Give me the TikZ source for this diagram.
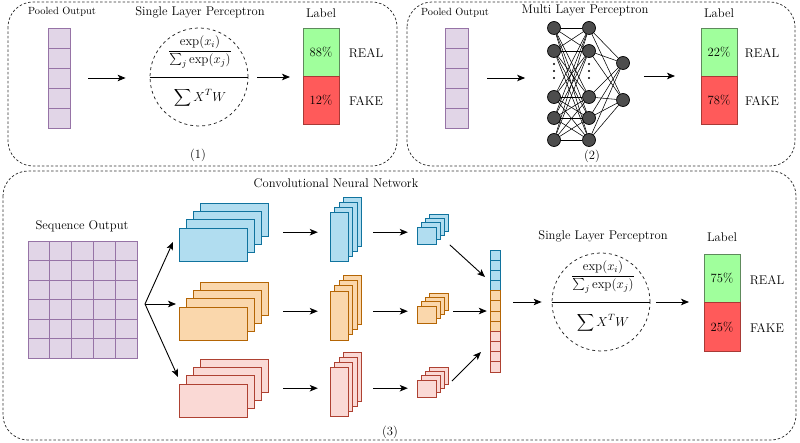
\RequirePackage{fix-cm}
\documentclass[tikz,border=0pt]{standalone}
\usepackage{amsmath}
\usetikzlibrary{arrows.meta,fit,calc}
\definecolor{pfill}{HTML}{E1D5E7}
\definecolor{pdraw}{HTML}{9673A6}
\definecolor{bfill}{HTML}{B1DDF0}
\definecolor{bdraw}{HTML}{10739E}
\definecolor{ofill}{HTML}{FAD7AC}
\definecolor{odraw}{HTML}{B46504}
\definecolor{rfill}{HTML}{FAD9D5}
\definecolor{rdraw}{HTML}{AE4132}
\definecolor{gbox}{HTML}{A0FF9C}
\definecolor{gboxd}{HTML}{5E8A5C}
\definecolor{rbox}{HTML}{FF5A5A}
\definecolor{rboxd}{HTML}{A83A36}
\definecolor{nnode}{HTML}{4D4D4D}
\tikzset{
  panel/.style={draw=black!80, line width=0.75pt, dash pattern=on 2.5pt off 2pt, rounded corners=25pt},
  arr/.style={draw=black, line width=0.9pt, -{Stealth[length=8pt,width=6.5pt,inset=2pt]}},
  cell/.style={draw=pdraw, fill=pfill, line width=0.9pt, inner sep=0pt, outer sep=0pt, anchor=north west},
  slp/.style={circle, draw=black!85, dashed, line width=0.75pt, minimum size=98pt, inner sep=0pt},
  realbox/.style={draw=gboxd, fill=gbox, line width=0.9pt, minimum width=36pt, minimum height=48pt, inner sep=0pt, outer sep=0pt},
  fakebox/.style={draw=rboxd, fill=rbox, line width=0.9pt, minimum width=36pt, minimum height=48pt, inner sep=0pt, outer sep=0pt},
  txt/.style={inner sep=0pt},
  mathtxt/.style={inner sep=0pt, font=\fontsize{13}{15.5}\selectfont},
  smalltxt/.style={font=\fontsize{10.4}{12}\selectfont, inner sep=0pt},
  neuron/.style={circle, draw=black, fill=nnode, line width=0.7pt, minimum size=13pt, inner sep=0pt},
  link/.style={draw=black, line width=0.55pt},
  fmap/.style 2 args={draw=#1, fill=#2, line width=0.9pt, inner sep=0pt, outer sep=0pt, anchor=north west},
  dotmark/.style={fill=black}
}
% #1 name, #2 x, #3 y, #4 w, #5 h, #6 dx, #7 dy, #8 colour prefix
\newcommand\fstack[8]{%
  \foreach \i in {3,2,1,0}{%
    \node[fmap={#8draw}{#8fill}, minimum width=#4pt, minimum height=#5pt] (#1-\i) at ({#2+\i*#6},{#3-\i*#7}) {};
  }%
  \node[fit=(#1-0)(#1-3), inner sep=0pt] (#1) {};
}
\begin{document}
\begin{tikzpicture}[x=1pt,y=-1pt,font=\fontsize{12.6}{15}\selectfont]
\useasboundingbox (0,0) rectangle (800,443);

% ---------------- panels
\draw[panel] (8,2) rectangle (397,166);
\draw[panel] (407,2) rectangle (795,166);
\draw[panel] (3,171) rectangle (796,440);

% ---------------- panel 1
\node[smalltxt] (po1) at (62,12) {Pooled Output};
\foreach \k in {0,...,4}{
  \node[cell, minimum width=22pt, minimum height=20pt] (p1c\k) at (48,{28+\k*20}) {};
}
\node[fit=(p1c0)(p1c4), inner sep=0pt] (col1) {};
\node[txt] (slt1) at (200,12) {Single Layer Perceptron};
\node[slp] (slp1) at (199,77) {};
\draw[line width=0.9pt] (slp1.west) -- (slp1.east);
\node[mathtxt] (fr1) at (200,52) {$\dfrac{\exp(x_i)}{\sum_j \exp(x_j)}$};
\node[mathtxt] (sm1) at (200,98) {$\displaystyle\sum X^T W$};
\draw[arr, shorten <=18pt, shorten >=24pt] (col1.east) -- (col1.east -| slp1.west);
\node[txt] (lb1) at (321,13) {Label};
\node[realbox, anchor=north west] (r1) at (303,28) {88\%};
\node[fakebox, anchor=north west] (f1) at (303,76) {12\%};
\node[txt] (rt1) at (366,53) {REAL};
\node[txt] (ft1) at (366,101) {FAKE};
\draw[arr, shorten <=9pt, shorten >=13pt] (slp1.east) -- (slp1.east -| r1.west);
\node[txt] (n1lab) at (198,155) {(1)};

% ---------------- panel 2
\node[smalltxt] (po2) at (455,13) {Pooled Output};
\foreach \k in {0,...,4}{
  \node[cell, minimum width=23pt, minimum height=20pt] (p2c\k) at (445,{28+\k*20}) {};
}
\node[fit=(p2c0)(p2c4), inner sep=0pt] (col2) {};
\node[txt] (mlt) at (585,10) {Multi Layer Perceptron};
\foreach \y [count=\j] in {28,51,97,118,140}{
  \node[neuron] (a\j) at (554,\y) {};
  \node[neuron] (b\j) at (589,\y) {};
}
\node[neuron] (c1) at (623,63) {};
\node[neuron] (c2) at (623,100) {};
\foreach \i in {1,...,5}{
  \foreach \j in {1,...,5}{
    \draw[link] (a\i) -- (b\j);
  }
  \draw[link] (b\i) -- (c1);
  \draw[link] (b\i) -- (c2);
}
\foreach \x in {554,589}{
  \foreach \y in {64,71,78}{
    \fill[dotmark] (\x,\y) circle (1.1pt);
  }
}
\draw[arr, shorten <=19pt, shorten >=22pt] (col2.east) -- (col2.east -| a3.west);
\node[txt] (lb2) at (719,13) {Label};
\node[realbox, anchor=north west] (r2) at (701,28) {22\%};
\node[fakebox, anchor=north west] (f2) at (701,76) {78\%};
\node[txt] (rt2) at (762,53) {REAL};
\node[txt] (ft2) at (762,101) {FAKE};
\draw[arr, shorten <=14pt, shorten >=26pt] (c1.east |- r2.south west) -- (r2.south west);
\node[txt] (n2lab) at (592,156) {(2)};

% ---------------- panel 3
\node[txt] (cnnt) at (336,183) {Convolutional Neural Network};
\node[txt] (sqo) at (82,226) {Sequence Output};
\foreach \c in {0,...,4}{
  \foreach \r in {0,...,5}{
    \node[cell, minimum width=21.8pt, minimum height=19.5pt] (g\c\r) at ({28+\c*21.8},{241+\r*19.5}) {};
  }
}
\node[fit=(g00)(g45), inner sep=0pt] (grid) {};

% feature maps
\fstack{bigB}{179}{228}{68}{33}{7.3}{8.2}{b}
\fstack{bigO}{179}{307}{68}{33}{7.3}{8.2}{o}
\fstack{bigR}{179}{384}{68}{33}{7.3}{8.2}{r}
\fstack{midB}{330}{212}{18}{49}{4.6}{5}{b}
\fstack{midO}{330}{291}{18}{49}{4.6}{5.3}{o}
\fstack{midR}{330}{367}{18}{49}{4.6}{5}{r}
\fstack{smB}{417}{227}{19}{17}{4.3}{4.3}{b}
\fstack{smO}{417}{306}{19}{17}{4.3}{4.3}{o}
\fstack{smR}{417}{380}{19}{17}{4.3}{4.3}{r}

% concatenated vector
\foreach \k/\c in {1/b,2/b,3/b,4/b,5/o,6/o,7/o,8/o,9/r,10/r,11/r,12/r}{
  \node[fmap={\c draw}{\c fill}, minimum width=10pt, minimum height=10.17pt] (v\k) at (490,{250+(\k-1)*10.17}) {};
}
\node[fit=(v1)(v12), inner sep=0pt] (vec) {};

% split arrows
\coordinate (split) at (145,304);
\coordinate (tB) at (173,242);
\coordinate (tO) at (176,304);
\coordinate (tR) at (178,377);
\draw[arr] (split) -- (tB);
\draw[arr] (split) -- (tO);
\draw[arr] (split) -- (tR);

% stage arrows
\draw[arr, shorten <=14pt, shorten >=12pt] (bigB.east) -- (bigB.east -| midB.west);
\draw[arr, shorten <=14pt, shorten >=12pt] (bigO.east) -- (bigO.east -| midO.west);
\draw[arr, shorten <=14pt, shorten >=12pt] (bigR.east) -- (bigR.east -| midR.west);
\draw[arr, shorten <=11pt, shorten >=9pt] (bigB.east -| midB.east) -- (bigB.east -| smB.west);
\draw[arr, shorten <=11pt, shorten >=9pt] (bigO.east -| midO.east) -- (bigO.east -| smO.west);
\draw[arr, shorten <=11pt, shorten >=9pt] (bigR.east -| midR.east) -- (bigR.east -| smR.west);

% to vector
\coordinate (eB) at (485,277);
\coordinate (eR) at (481,352);
\draw[arr, shorten <=1pt] (smB.south east) -- (eB);
\draw[arr, shorten <=4pt, shorten >=3pt] (smO.east |- vec.west) -- (vec.west);
\draw[arr, shorten <=4pt] (smR.east |- 0,384) -- (eR);

% perceptron 3
\node[txt] (slt3) at (603,236) {Single Layer Perceptron};
\node[slp] (slp3) at (601,302) {};
\draw[line width=0.9pt] (slp3.west) -- (slp3.east);
\node[mathtxt] (fr3) at (603,277) {$\dfrac{\exp(x_i)}{\sum_j \exp(x_j)}$};
\node[mathtxt] (sm3) at (603,323) {$\displaystyle\sum X^T W$};
\draw[arr, shorten <=13pt, shorten >=10pt] (vec.east |- slp3.west) -- (slp3.west);

\node[txt] (lb3) at (722,237) {Label};
\node[realbox, anchor=north west, minimum height=48.5pt] (r3) at (704,254) {75\%};
\node[fakebox, anchor=north west, minimum height=48.5pt] (f3) at (704,302.5) {25\%};
\node[txt] (rt3) at (767,280) {REAL};
\node[txt] (ft3) at (767,328) {FAKE};
\draw[arr, shorten <=6pt, shorten >=15pt] (slp3.east) -- (slp3.east -| r3.west);
\node[txt] (n3lab) at (390,432) {(3)};
\end{tikzpicture}
\end{document}
